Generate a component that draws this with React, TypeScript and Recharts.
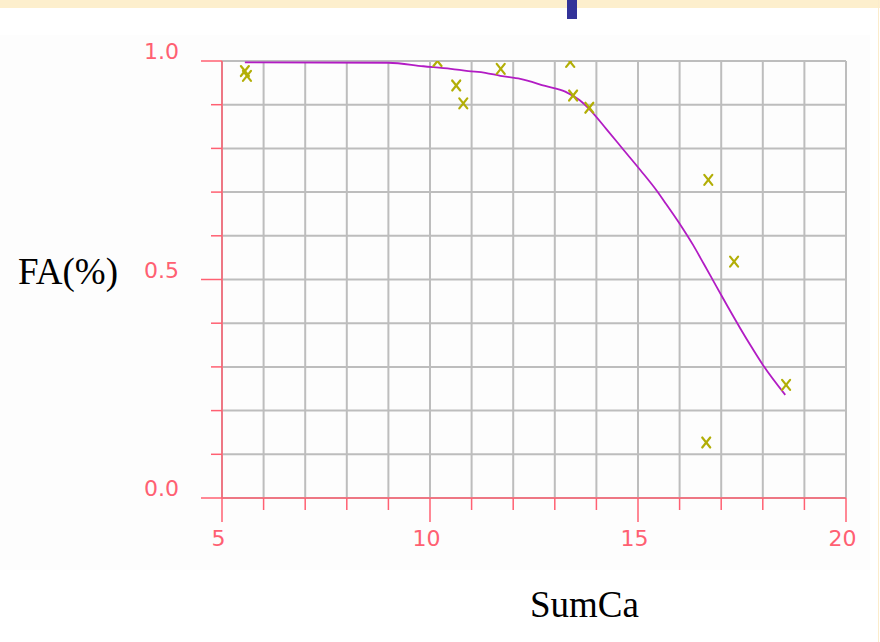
import React from 'react';
import { ComposedChart, Scatter, Line, XAxis, YAxis, CartesianGrid } from 'recharts';

// Measured samples (SumCa vs FA)
const sampleSumCa = [5.55, 5.6, 10.18, 10.63, 10.8, 11.7, 13.37, 13.44, 13.83, 16.69, 17.31, 18.56, 16.64];
const sampleFA = [0.977, 0.966, 1.0, 0.944, 0.903, 0.982, 0.998, 0.921, 0.893, 0.728, 0.541, 0.259, 0.127];

// Fitted curve
const curveSumCa = [5.55, 9.0, 9.84, 10.5, 10.92, 11.33, 11.69, 12.17, 12.77, 13.25, 13.6, 13.83, 14.25, 14.65, 15.06, 15.46, 15.68, 16.06, 16.33, 16.58, 16.78, 17.02, 17.46, 17.7, 18.02, 18.54];
const curveFA = [0.997, 0.996, 0.988, 0.982, 0.977, 0.973, 0.966, 0.959, 0.943, 0.93, 0.91, 0.89, 0.843, 0.797, 0.75, 0.702, 0.672, 0.619, 0.578, 0.536, 0.502, 0.461, 0.388, 0.35, 0.302, 0.236];

// Axis ticks
const xTicks = [5, 6, 7, 8, 9, 10, 11, 12, 13, 14, 15, 16, 17, 18, 19, 20];
const xTickLabels = ['5', '', '', '', '', '10', '', '', '', '', '15', '', '', '', '', '20'];
const yTicks = [0, 0.1, 0.2, 0.3, 0.4, 0.5, 0.6, 0.7, 0.8, 0.9, 1.0];
const yTickLabels = ['0.0', '', '', '', '', '0.5', '', '', '', '', '1.0'];

const samples = sampleSumCa.map((x, i) => ({ x, y: sampleFA[i] }));
const curve = curveSumCa.map((x, i) => ({ x, y: curveFA[i] }));

const RED = '#ff6072';
const TICK_FONT = "'DejaVu Sans', sans-serif";

const XTick = (props: any) => {
  const { x, y, payload } = props;
  const idx = xTicks.indexOf(payload.value);
  const label = xTickLabels[idx] || '';
  const major = label !== '';
  return (
    <g>
      <line x1={x} x2={x} y1={y} y2={y + (major ? 24 : 12)} stroke={RED} strokeWidth={1.5} />
      {major && (
        <text x={x - 3.5} y={y + 48} textAnchor="middle" fill={RED} fontFamily={TICK_FONT} fontSize={22}>
          {label}
        </text>
      )}
    </g>
  );
};

const YTick = (props: any) => {
  const { x, y, payload } = props;
  const idx = yTicks.findIndex((t) => Math.abs(t - payload.value) < 1e-9);
  const label = yTickLabels[idx] || '';
  const major = label !== '';
  return (
    <g>
      <line x1={x - (major ? 21 : 11)} x2={x} y1={y} y2={y} stroke={RED} strokeWidth={1.5} />
      {major && (
        <text x={x - 43} y={y - 2} textAnchor="end" fill={RED} fontFamily={TICK_FONT} fontSize={22}>
          {label}
        </text>
      )}
    </g>
  );
};

const Cross = (props: any) => {
  const { cx, cy } = props;
  if (cx == null || cy == null) return <g />;
  return (
    <g stroke="#b2ae06" strokeWidth={2.2} strokeLinecap="round">
      <line x1={cx - 4} y1={cy - 5} x2={cx + 4} y2={cy + 5} />
      <line x1={cx + 4} y1={cy - 5} x2={cx - 4} y2={cy + 5} />
    </g>
  );
};

export default function App() {
  return (
    <div style={{ position: 'absolute', left: 0, top: 0, width: 880, height: 642, background: '#ffffff', overflow: 'hidden' }}>
      <div style={{ position: 'absolute', left: 0, top: 0, width: 880, height: 8, background: '#fdefcd' }} />
      <div style={{ position: 'absolute', left: 567, top: 0, width: 10, height: 19, background: '#333399' }} />
      <div style={{ position: 'absolute', left: 878, top: 0, width: 1, height: 642, background: '#fbeccb' }} />
      <div style={{ position: 'absolute', left: 0, top: 35, width: 870, height: 535, background: '#fdfdfd' }} />
      <div style={{ position: 'absolute', left: 0, top: 0 }}>
        <ComposedChart width={880} height={642} margin={{ top: 61, right: 34, bottom: 104, left: 122 }}>
          <CartesianGrid stroke="#bdbdbd" strokeWidth={2} />
          <XAxis
            type="number"
            dataKey="x"
            domain={[5, 20]}
            ticks={xTicks}
            interval={0}
            height={40}
            tickSize={0}
            tickMargin={0}
            tickLine={false}
            axisLine={{ stroke: RED, strokeWidth: 1.5 }}
            tick={<XTick />}
            allowDataOverflow
          />
          <YAxis
            type="number"
            dataKey="y"
            domain={[0, 1]}
            ticks={yTicks}
            interval={0}
            width={100}
            tickSize={0}
            tickMargin={0}
            tickLine={false}
            axisLine={{ stroke: RED, strokeWidth: 1.5 }}
            tick={<YTick />}
            allowDataOverflow
          />
          <Line
            data={curve}
            dataKey="y"
            type="monotone"
            stroke="#b21cc4"
            strokeWidth={1.8}
            dot={false}
            activeDot={false}
            isAnimationActive={false}
          />
          <Scatter data={samples} dataKey="y" shape={<Cross />} isAnimationActive={false} />
        </ComposedChart>
      </div>
      <div style={{ position: 'absolute', left: 18, top: 250, fontFamily: "'Liberation Serif', 'Times New Roman', serif", fontSize: 37, color: '#000', lineHeight: '44px', whiteSpace: 'nowrap' }}>
        FA(%)
      </div>
      <div style={{ position: 'absolute', left: 530, top: 583, fontFamily: "'Liberation Serif', 'Times New Roman', serif", fontSize: 37, color: '#000', lineHeight: '44px', whiteSpace: 'nowrap' }}>
        SumCa
      </div>
    </div>
  );
}
